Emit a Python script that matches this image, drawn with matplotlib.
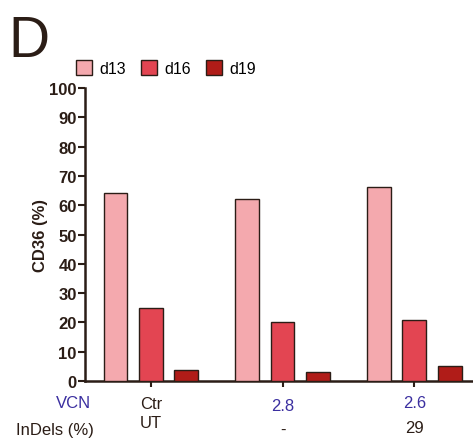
import numpy as np
import matplotlib
matplotlib.use("Agg")
import matplotlib.pyplot as plt

plt.rcParams['font.family'] = ['Liberation Sans', 'DejaVu Sans']

series = ["d13", "d16", "d19"]
groups = ["Ctr\nUT", "2.8", "2.6"]
indels = ["", "-", "29"]
d13 = [64.3, 62.0, 66.2]
d16 = [24.9, 20.0, 20.8]
d19 = [3.8, 3.1, 5.0]
colors = ["#f4a9ae", "#e34552", "#b01c18"]
yticks = list(range(0, 101, 10))

ink = "#2b1d16"
blue = "#3b2fa0"

fig = plt.figure(figsize=(4.73, 4.39), dpi=100)
ax = fig.add_axes([0.1797, 0.1298, 0.83, 0.667])

x = np.arange(len(groups))
w = 0.18
off = 0.268
for i, (vals, c, name) in enumerate(zip([d13, d16, d19], colors, series)):
    ax.bar(x + (i - 1) * off, vals, w, color=c, edgecolor=ink, linewidth=1.0,
           label=name, zorder=3)

ax.set_xlim(-0.5, 2.48)
ax.set_ylim(0, 100)
ax.set_yticks(yticks)
ax.set_yticklabels([str(t) for t in yticks], fontweight='bold', fontsize=12, color=ink)
ax.set_xticks(x)
ax.set_xticklabels([])
ax.tick_params(axis='y', length=5, width=1.5, color=ink, pad=1)
ax.tick_params(axis='x', length=4, width=1.5, color=ink)
for s in ["top", "right"]:
    ax.spines[s].set_visible(False)
for s in ["left", "bottom"]:
    ax.spines[s].set_color(ink)
    ax.spines[s].set_linewidth(1.8)
ax.spines["bottom"].set_bounds(-0.5, 2.6)
ax.set_ylabel("CD36 (%)", fontweight='bold', fontsize=12, color=ink, labelpad=1)

# bottom annotation rows
tr = ax.get_xaxis_transform()
ax.text(-0.59, -0.075, "VCN", transform=tr, ha='center', va='center',
        fontsize=12, color=blue)
ax.text(-1.02, -0.165, "InDels (%)", transform=tr, ha='left', va='center',
        fontsize=12, color=ink)
ax.text(0, -0.11, groups[0], transform=tr, ha='center', va='center',
        fontsize=12, color=ink, linespacing=1.35)
ax.text(1, -0.085, groups[1], transform=tr, ha='center', va='center',
        fontsize=12, color=blue)
ax.text(2, -0.075, groups[2], transform=tr, ha='center', va='center',
        fontsize=12, color=blue)
ax.text(1, -0.165, indels[1], transform=tr, ha='center', va='center',
        fontsize=12, color=ink)
ax.text(2, -0.158, indels[2], transform=tr, ha='center', va='center',
        fontsize=12, color=ink)

ax.legend(loc='lower left', bbox_to_anchor=(-0.04, 1.02), ncol=3, frameon=False,
          fontsize=11.5, handlelength=1.0, handleheight=1.0, handletextpad=0.5,
          columnspacing=0.9, borderaxespad=0)

fig.text(0.018, 0.905, "D", fontsize=41, color=ink, ha='left', va='center')

fig.savefig("out.png", dpi=100)
